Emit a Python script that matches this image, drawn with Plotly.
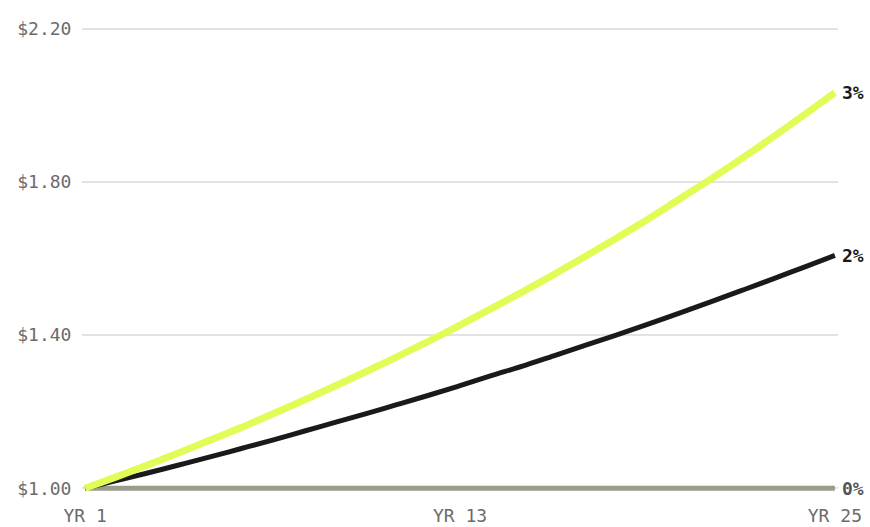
import plotly.graph_objects as go

years = list(range(1, 26))
tick_years = [1, 13, 25]
tick_year_text = ["YR 1", "YR 13", "YR 25"]
price_ticks = [1.00, 1.40, 1.80, 2.20]
price_tick_text = ["$1.00", "$1.40", "$1.80", "$2.20"]

rate_0 = [1.00] * 25
rate_2 = [1.000, 1.020, 1.040, 1.061, 1.082, 1.104, 1.126, 1.149, 1.172, 1.195,
          1.219, 1.243, 1.268, 1.294, 1.319, 1.346, 1.373, 1.400, 1.428, 1.457,
          1.486, 1.516, 1.546, 1.577, 1.608]
rate_3 = [1.000, 1.030, 1.061, 1.093, 1.126, 1.159, 1.194, 1.230, 1.267, 1.305,
          1.344, 1.384, 1.426, 1.469, 1.513, 1.558, 1.605, 1.653, 1.702, 1.754,
          1.806, 1.860, 1.916, 1.974, 2.033]

series = [
    ("0%", rate_0, "#9b9b8b", 5, "#555555"),
    ("2%", rate_2, "#1a1a1a", 5, "#1a1a1a"),
    ("3%", rate_3, "#e0fc55", 7, "#1a1a1a"),
]

MONO = "DejaVu Sans Mono"

fig = go.Figure()
for name, vals, color, width, _ in series:
    fig.add_trace(go.Scatter(
        x=years, y=vals, mode="lines", name=name,
        line=dict(color=color, width=width, shape="spline"),
        hoverinfo="skip",
    ))

for name, vals, _, _, label_color in series:
    fig.add_annotation(
        x=years[-1], y=vals[-1], text=name, showarrow=False,
        xanchor="left", yanchor="middle", xshift=5,
        font=dict(family=MONO, size=18, color=label_color, weight=600),
    )

fig.update_layout(
    width=870, height=527,
    margin=dict(l=82, r=32, t=21, b=31, autoexpand=False),
    paper_bgcolor="white", plot_bgcolor="white",
    showlegend=False,
    xaxis=dict(
        range=[0.9, 25.1], tickvals=tick_years, ticktext=tick_year_text,
        showgrid=False, zeroline=False, showline=False, automargin=False,
        ticks="outside", ticklen=3, tickcolor="rgba(0,0,0,0)",
        tickfont=dict(family=MONO, size=18, color="#6b6b6b"),
    ),
    yaxis=dict(
        range=[0.98, 2.22], tickvals=price_ticks, ticktext=price_tick_text,
        showgrid=True, gridcolor="#e3e3e3", gridwidth=2,
        zeroline=False, showline=False, automargin=False,
        ticks="outside", ticklen=6, tickcolor="rgba(0,0,0,0)",
        tickfont=dict(family=MONO, size=18, color="#6b6b6b"),
    ),
)

fig.write_html("out.html")
